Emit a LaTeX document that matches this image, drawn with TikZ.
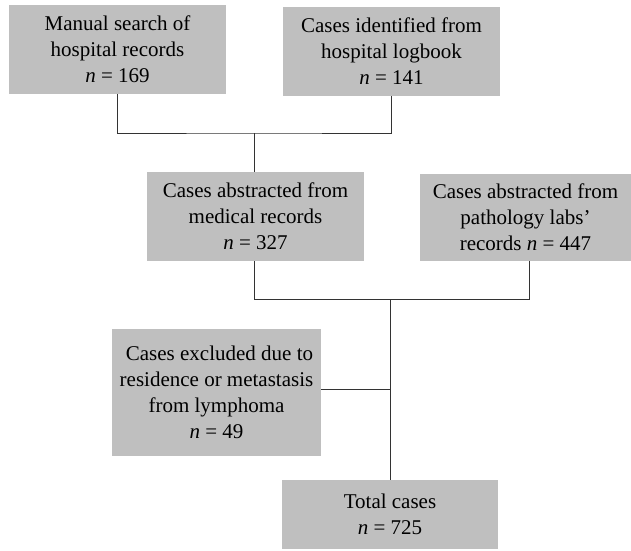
\documentclass[tikz,border=0pt]{standalone}
\usepackage{fontspec}
\setmainfont{Liberation Serif}
\begin{document}
\begin{tikzpicture}[x=1pt,y=-1pt,
  box/.style={fill=boxgray,draw=none,inner sep=0pt,align=center,font=\fontsize{21}{26}\selectfont},
  conn/.style={draw=linegray,line width=0.9pt}]
\definecolor{boxgray}{RGB}{191,191,191}
\definecolor{linegray}{RGB}{51,51,51}
\useasboundingbox (0,0) rectangle (631,550);
\node[box,minimum width=217pt,minimum height=89pt] (b1) at (117.5,49.5) {Manual search of\\hospital records\\\textit{n} = 169};
\node[box,minimum width=217pt,minimum height=89pt] (b2) at (391.5,51.5) {Cases identified from\\hospital logbook\\\textit{n} = 141};
\node[box,minimum width=217pt,minimum height=89pt] (b3) at (255.5,216.5) {Cases abstracted from\\medical records\\\textit{n} = 327};
\node[box,minimum width=211pt,minimum height=87pt] (b4) at (525.5,217.5) {Cases abstracted from\\pathology labs'\\records \textit{n} = 447};
\node[box,minimum width=209pt,minimum height=127pt] (b5) at (216.5,392.5) {\hspace{6pt}Cases excluded due to\\residence or metastasis\\from lymphoma\\\textit{n} = 49};
\node[box,minimum width=216pt,minimum height=69pt] (b6) at (390,514.5) {Total cases\\\textit{n} = 725};
\coordinate (j1) at (254,133);
\coordinate (j2) at (390,299);
\coordinate (j3) at (390,389);
\draw[conn] (b1.south) |- (j1) -| (b2.south);
\draw[conn] (j1) -- (b3.north -| j1);
\draw[conn] (b3.south -| j1) |- (j2) -| (b4.south -| 529,0);
\draw[conn] (j2) -- (b6.north -| j2);
\draw[conn] (b5.east |- j3) -- (j3);
\end{tikzpicture}
\end{document}
